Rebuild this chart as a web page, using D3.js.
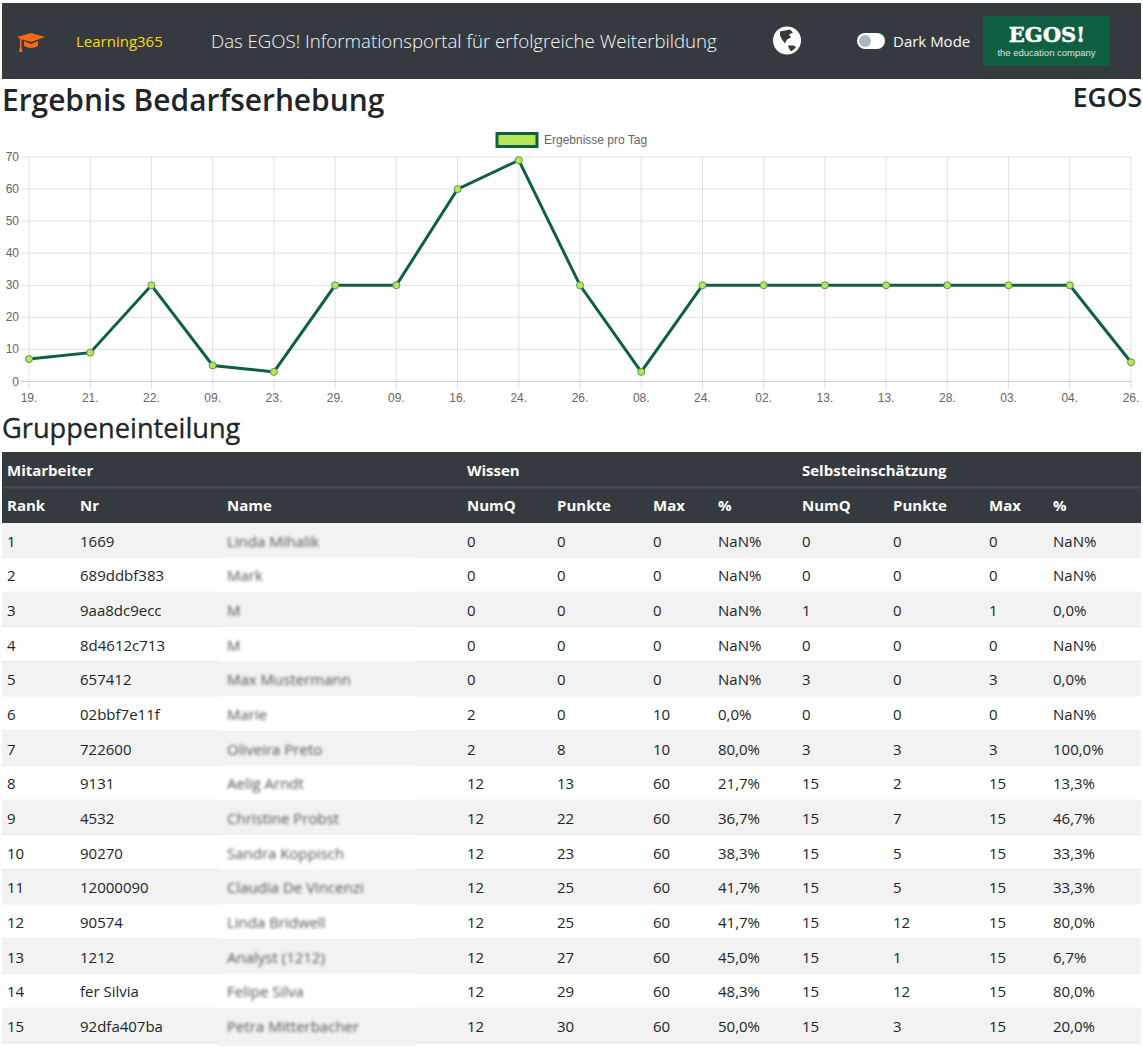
<!DOCTYPE html>
<html lang="de">
<head>
<meta charset="utf-8">
<title>Ergebnis Bedarfserhebung</title>
<script src="https://cdn.jsdelivr.net/npm/d3@7"></script>
<style>
  html, body { margin: 0; padding: 0; background: #fff; overflow: hidden; }
  svg { display: block; }
  text { font-family: "Open Sans", "Noto Sans", sans-serif; }
  .chartText { font-family: "Liberation Sans", Arial, sans-serif; fill: #666; font-size: 12px; }
</style>
</head>
<body>
<svg id="page" width="1143" height="1047"></svg>
<script>
// chart data
const days = ["19.", "21.", "22.", "09.", "23.", "29.", "09.", "16.", "24.", "26.", "08.", "24.", "02.", "13.", "13.", "28.", "03.", "04.", "26."];
const resultsPerDay = [7, 9, 30, 5, 3, 30, 30, 60, 69, 30, 3, 30, 30, 30, 30, 30, 30, 30, 6];
const yTicks = [0, 10, 20, 30, 40, 50, 60, 70];

// table data
const groupHeaders = [["Mitarbeiter", 7], ["Wissen", 467], ["Selbsteinschätzung", 802]];
const columnHeaders = ["Rank", "Nr", "Name", "NumQ", "Punkte", "Max", "%", "NumQ", "Punkte", "Max", "%"];
const columnX = [7, 80, 227, 467, 557, 653, 718, 802, 893, 989, 1053];
const ranks = d3.range(1, 16);
const numbers = ["1669", "689ddbf383", "9aa8dc9ecc", "8d4612c713", "657412", "02bbf7e11f", "722600", "9131", "4532", "90270", "12000090", "90574", "1212", "fer Silvia", "92dfa407ba"];
// names are blurred in the reference, these are only best guesses
const names = ["Linda Mihalik", "Mark", "M", "M", "Max Mustermann", "Marie", "Oliveira Preto", "Aelig Arndt", "Christine Probst", "Sandra Koppisch", "Claudia De Vincenzi", "Linda Bridwell", "Analyst (1212)", "Felipe Silva", "Petra Mitterbacher"];
const wNumQ = [0, 0, 0, 0, 0, 2, 2, 12, 12, 12, 12, 12, 12, 12, 12];
const wPunkte = [0, 0, 0, 0, 0, 0, 8, 13, 22, 23, 25, 25, 27, 29, 30];
const wMax = [0, 0, 0, 0, 0, 10, 10, 60, 60, 60, 60, 60, 60, 60, 60];
const wPct = ["NaN%", "NaN%", "NaN%", "NaN%", "NaN%", "0,0%", "80,0%", "21,7%", "36,7%", "38,3%", "41,7%", "41,7%", "45,0%", "48,3%", "50,0%"];
const sNumQ = [0, 0, 1, 0, 3, 0, 3, 15, 15, 15, 15, 15, 15, 15, 15];
const sPunkte = [0, 0, 0, 0, 0, 0, 3, 2, 7, 5, 5, 12, 1, 12, 3];
const sMax = [0, 0, 1, 0, 3, 0, 3, 15, 15, 15, 15, 15, 15, 15, 15];
const sPct = ["NaN%", "NaN%", "0,0%", "NaN%", "0,0%", "NaN%", "100,0%", "13,3%", "46,7%", "33,3%", "33,3%", "80,0%", "6,7%", "80,0%", "20,0%"];

const svg = d3.select("#page");
const dark = "#343a40";

svg.append("defs").append("filter").attr("id", "blurName")
  .attr("x", "-10%").attr("y", "-40%").attr("width", "120%").attr("height", "180%")
  .append("feGaussianBlur").attr("stdDeviation", 1.6);

// navbar
const nav = svg.append("g");
nav.append("rect").attr("x", 2).attr("y", 3).attr("width", 1139).attr("height", 76).attr("fill", dark);

// graduation cap
const cap = nav.append("g").attr("transform", "translate(31,41)").attr("fill", "#fb6a13");
cap.append("path").attr("d", "M-14,-4 L0,-8 L14,-4 L0,1 L-10,-2 Z");
cap.append("path").attr("d", "M-7,0 L0,3 L7,0 L7,5 Q0,9 -7,5 Z");
cap.append("path").attr("d", "M-11,-3 L-9.5,-3 L-9.5,6 L-8.5,11 L-12,11 L-11,6 Z");

nav.append("text").attr("x", 76).attr("y", 47).attr("font-size", 15).attr("fill", "#ffd700").text("Learning365");
nav.append("text").attr("x", 211).attr("y", 47.5).attr("font-size", 18.65).attr("fill", "#f8f9fa").attr("font-weight", 300).text("Das EGOS! Informationsportal für erfolgreiche Weiterbildung");

// globe
const globe = nav.append("g").attr("transform", "translate(787,40.5)");
globe.append("circle").attr("r", 14).attr("fill", "#fff");
globe.append("path").attr("fill", dark).attr("d", "M-7,-9 L3,-11 L6,-8 L2,-6 L4,-3 L0,-1 L-2,3 L-5,-1 L-7,-5 Z");
globe.append("path").attr("fill", dark).attr("d", "M1,5 L7,5 L9,7 L4,11 L2,8 Z");

// dark mode toggle
nav.append("rect").attr("x", 857).attr("y", 33).attr("width", 28).attr("height", 16).attr("rx", 8).attr("fill", "#fff");
nav.append("circle").attr("cx", 865).attr("cy", 41).attr("r", 6).attr("fill", "#adb5bd");
nav.append("text").attr("x", 893).attr("y", 47).attr("font-size", 15).attr("fill", "#f8f9fa").text("Dark Mode");

// logo
nav.append("rect").attr("x", 983).attr("y", 16).attr("width", 127).attr("height", 50).attr("fill", "#0f5f43");
nav.append("text").attr("x", 1047).attr("y", 42).attr("text-anchor", "middle").attr("font-size", 21).attr("font-weight", 700)
  .attr("fill", "#fff").attr("stroke", "#fff").attr("stroke-width", 0.5)
  .style("font-family", "'DejaVu Serif', serif").text("EGOS!");
nav.append("text").attr("x", 1046.5).attr("y", 56).attr("text-anchor", "middle").attr("font-size", 9.5)
  .attr("fill", "#d8e6df").style("font-family", "'Liberation Sans', sans-serif").text("the education company");

// headings
svg.append("text").attr("x", 2).attr("y", 111).attr("font-size", 29.9).attr("font-weight", 600).attr("fill", "#212529").text("Ergebnis Bedarfserhebung");
svg.append("text").attr("x", 1142).attr("y", 107).attr("text-anchor", "end").attr("font-size", 26.4).attr("font-weight", 600).attr("fill", "#212529").text("EGOS");
svg.append("text").attr("x", 2).attr("y", 438).attr("font-size", 27.2).attr("font-weight", 500).attr("fill", "#212529")
  .attr("stroke", "#212529").attr("stroke-width", 0.3).text("Gruppeneinteilung");

// line chart
const x = d3.scalePoint().domain(d3.range(days.length)).range([29, 1131]);
const y = d3.scaleLinear().domain([0, 70]).range([381.5, 157]);
const chart = svg.append("g");

chart.append("g").selectAll("line").data(d3.range(days.length)).join("line")
  .attr("x1", i => x(i)).attr("x2", i => x(i))
  .attr("y1", y(70)).attr("y2", y(0) + 8)
  .attr("stroke", "#e0e0e0");
chart.append("g").selectAll("line").data(yTicks).join("line")
  .attr("x1", 21).attr("x2", 1131)
  .attr("y1", d => y(d)).attr("y2", d => y(d))
  .attr("stroke", d => d === 0 ? "#cfcfcf" : "#e0e0e0");
chart.append("g").selectAll("text").data(yTicks).join("text")
  .attr("class", "chartText")
  .attr("x", 19).attr("y", d => y(d) + 4)
  .attr("text-anchor", "end").text(d => d);
chart.append("g").selectAll("text").data(days).join("text")
  .attr("class", "chartText")
  .attr("x", (d, i) => x(i)).attr("y", 402)
  .attr("text-anchor", "middle").text(d => d);

chart.append("path").datum(resultsPerDay)
  .attr("fill", "none").attr("stroke", "#0f5f43").attr("stroke-width", 3)
  .attr("d", d3.line().x((d, i) => x(i)).y(d => y(d)));
chart.append("g").selectAll("circle").data(resultsPerDay).join("circle")
  .attr("cx", (d, i) => x(i)).attr("cy", d => y(d)).attr("r", 3.5)
  .attr("fill", "#b8e656").attr("stroke", "#4f9a4f").attr("stroke-width", 1);

// legend
chart.append("rect").attr("x", 497).attr("y", 133.5).attr("width", 40).attr("height", 13)
  .attr("fill", "#b8e656").attr("stroke", "#0f5f43").attr("stroke-width", 3);
chart.append("text").attr("class", "chartText").attr("x", 544).attr("y", 144).text("Ergebnisse pro Tag");

// table header
const table = svg.append("g");
table.append("rect").attr("x", 2).attr("y", 452).attr("width", 1139).attr("height", 71).attr("fill", dark);
table.append("line").attr("x1", 2).attr("x2", 1141).attr("y1", 487.5).attr("y2", 487.5).attr("stroke", "#454d55").attr("stroke-width", 2);
table.append("g").selectAll("text").data(groupHeaders).join("text")
  .attr("x", d => d[1]).attr("y", 476).attr("font-size", 15).attr("font-weight", 700).attr("fill", "#fff").text(d => d[0]);
table.append("g").selectAll("text").data(columnHeaders).join("text")
  .attr("x", (d, i) => columnX[i]).attr("y", 511).attr("font-size", 15).attr("font-weight", 700).attr("fill", "#fff").text(d => d);

// table rows
const rowY = d3.scaleLinear().domain([0, 15]).range([523, 1043]);
const rows = table.selectAll("g.row").data(ranks).join("g").attr("class", "row");
rows.append("rect").attr("x", 2).attr("width", 1139)
  .attr("y", (d, i) => rowY(i)).attr("height", (d, i) => rowY(i + 1) - rowY(i))
  .attr("fill", (d, i) => i % 2 === 0 ? "#f2f2f2" : "#fff");
rows.append("line").attr("x1", 2).attr("x2", 1141)
  .attr("y1", (d, i) => rowY(i + 1)).attr("y2", (d, i) => rowY(i + 1)).attr("stroke", "#dee2e6");
// the name cells have a blurred patch which runs over the row lines
rows.append("rect").attr("x", 219).attr("width", 197)
  .attr("y", (d, i) => rowY(i) + 3).attr("height", (d, i) => rowY(i + 1) - rowY(i))
  .attr("fill", (d, i) => i % 2 === 0 ? "#f2f2f2" : "#fff");

const cellColumns = [ranks, numbers, names, wNumQ, wPunkte, wMax, wPct, sNumQ, sPunkte, sMax, sPct];
cellColumns.forEach((col, c) => {
  const cells = table.append("g").selectAll("text").data(col).join("text")
    .attr("x", columnX[c])
    .attr("y", (d, i) => rowY(i) + 23.5)
    .attr("font-size", 15)
    .attr("fill", "#212529")
    .text(d => d);
  if (c === 2) cells.attr("filter", "url(#blurName)").attr("fill", "#555");
});
</script>
</body>
</html>
